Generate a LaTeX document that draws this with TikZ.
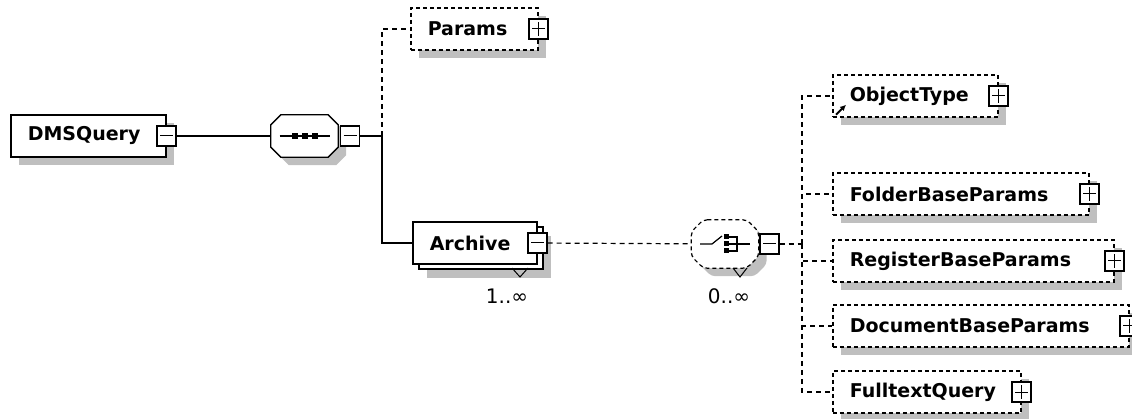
\documentclass[tikz,border=0pt]{standalone}
\usepackage{fontspec}
\setmainfont{DejaVu Sans}
\usetikzlibrary{shadows,arrows.meta}

% octagon round a named node, corners cut by #2
\newcommand{\octagon}[2]{([xshift=#2]#1.north west) -- ([xshift=-#2]#1.north east) -- ([yshift=-#2]#1.north east) -- ([yshift=#2]#1.south east) -- ([xshift=-#2]#1.south east) -- ([xshift=#2]#1.south west) -- ([yshift=#2]#1.south west) -- ([yshift=-#2]#1.north west) -- cycle}

\begin{document}
\begin{tikzpicture}[x=1pt,y=-1pt,
  box/.style={draw,fill=white,line width=1.5pt,anchor=west,minimum height=42pt,inner xsep=17pt,inner ysep=0pt,text width=#1,align=left,font=\bfseries\fontsize{19}{21}\selectfont},
  grey/.style={drop shadow={shadow xshift=#1,shadow yshift=-#1,fill=black!25,opacity=1}},
  elem/.style={grey=8pt,box=#1},
  optelem/.style={elem=#1,dash pattern=on 4pt off 3pt},
  multi/.style={grey=14pt,copy shadow={shadow xshift=6pt,shadow yshift=-5pt,draw,fill=white,line width=1.5pt},box=#1},
  pm/.style={draw,fill=white,line width=1.2pt,minimum width=19pt,minimum height=20pt,inner sep=0pt},
  minus/.style={pm,path picture={\draw[line width=1pt] ([xshift=3pt]path picture bounding box.west) -- ([xshift=-3pt]path picture bounding box.east);}},
  plus/.style={pm,path picture={\draw[line width=1pt] ([xshift=3pt]path picture bounding box.west) -- ([xshift=-3pt]path picture bounding box.east) ([yshift=3pt]path picture bounding box.south) -- ([yshift=-3pt]path picture bounding box.north);}},
  compositor/.style={minimum width=67pt,minimum height=#1,inner sep=0pt},
  conn/.style={line width=1.2pt},
  opt/.style={conn,dash pattern=on 5pt off 4pt},
  occurs/.style={font=\fontsize{20}{22}\selectfont}
]
\useasboundingbox (0,0) rectangle (1132,419);

% Root element
\node[elem=121pt] (root) at (10,136) {DMSQuery};
\node[minus] (rootpm) at (root.east) {};

% Sequence
\node[compositor=42pt] (seq) at (304.5,136) {};
\node[compositor=42pt] (seqshade) at ([shift={(8pt,-8pt)}]seq.center) {};
\fill[black!25] \octagon{seqshade}{10pt};
\filldraw[fill=white,line width=1.3pt] \octagon{seq}{10pt};
\draw[conn] ([xshift=-25pt]seq.center) -- ([xshift=25pt]seq.center);
\foreach \dx in {-10,0,10}
  \fill ([xshift=\dx pt]seq.center) +(-3pt,-3pt) rectangle +(3pt,3pt);
\node[minus] (seqpm) at (350,136) {};
\coordinate (seqbus) at (382,136);

% Children of the sequence
\node[optelem=93pt] (params) at (410,29) {Params};
\node[plus] (paramspm) at (params.east) {};
\node[multi=90pt] (archive) at (412,243) {Archive};
\node[minus] (archivepm) at (archive.east) {};
\draw[line width=1pt] (512,268) -- (520,277) -- (528,268);
\node[occurs] (archivemax) at (507,296) {1..∞};

% Choice
\node[compositor=48pt] (choice) at (725,244) {};
\node[compositor=48pt] (choiceshade) at ([shift={(8pt,-8pt)}]choice.center) {};
\fill[black!25,rounded corners=4pt] \octagon{choiceshade}{12pt};
\filldraw[fill=white,line width=1.2pt,dash pattern=on 4pt off 3pt,rounded corners=4pt] \octagon{choice}{12pt};
\draw[conn] ([xshift=-25pt]choice.center) -- ++(12pt,0pt) -- ++(10pt,8pt);
\foreach \dy in {-7,0,7}
  \fill ([shift={(1pt,\dy pt)}]choice.center) +(-2.5pt,-2.5pt) rectangle +(2.5pt,2.5pt);
\draw[line width=1.2pt] ([shift={(3pt,7pt)}]choice.center) -- ++(9pt,0pt) -- ++(0pt,-14pt) -- ++(-9pt,0pt)
  ([xshift=3pt]choice.center) -- ++(22pt,0pt);
\draw[line width=1pt] (733,268) -- (740,277) -- (747,268);
\node[occurs] (choicemax) at (729,296) {0..∞};
\node[minus] (choicepm) at (769.5,244) {};
\coordinate (choicebus) at (802,244);

% Children of the choice
\node[optelem=131pt] (objtype) at (832,96) {ObjectType};
\node[plus] (objtypepm) at (objtype.east) {};
\draw[-{Latex[length=6pt,width=6pt]},line width=1.8pt] ([shift={(4pt,3pt)}]objtype.south west) -- ++(10pt,10pt);
\node[optelem=222pt] (folder) at (832,194) {FolderBaseParams};
\node[plus] (folderpm) at (folder.east) {};
\node[optelem=247pt] (register) at (832,261) {RegisterBaseParams};
\node[plus] (registerpm) at (register.east) {};
\node[optelem=262pt] (document) at (832,326) {DocumentBaseParams};
\node[plus] (documentpm) at (document.east) {};
\node[optelem=154pt] (fulltext) at (832,392) {FulltextQuery};
\node[plus] (fulltextpm) at (fulltext.east) {};

% Connections
\draw[conn] (rootpm) -- (seq);
\draw[conn] (seqpm) -- (seqbus);
\draw[opt] (seqbus) |- (params);
\draw[conn] (seqbus) |- (archive);
\draw[opt] (archivepm) -- (choice);
\draw[opt] (choicepm) -- (choicebus);
\foreach \child in {objtype,folder,register,document,fulltext}
  \draw[opt] (choicebus) |- (\child);

\end{tikzpicture}
\end{document}
